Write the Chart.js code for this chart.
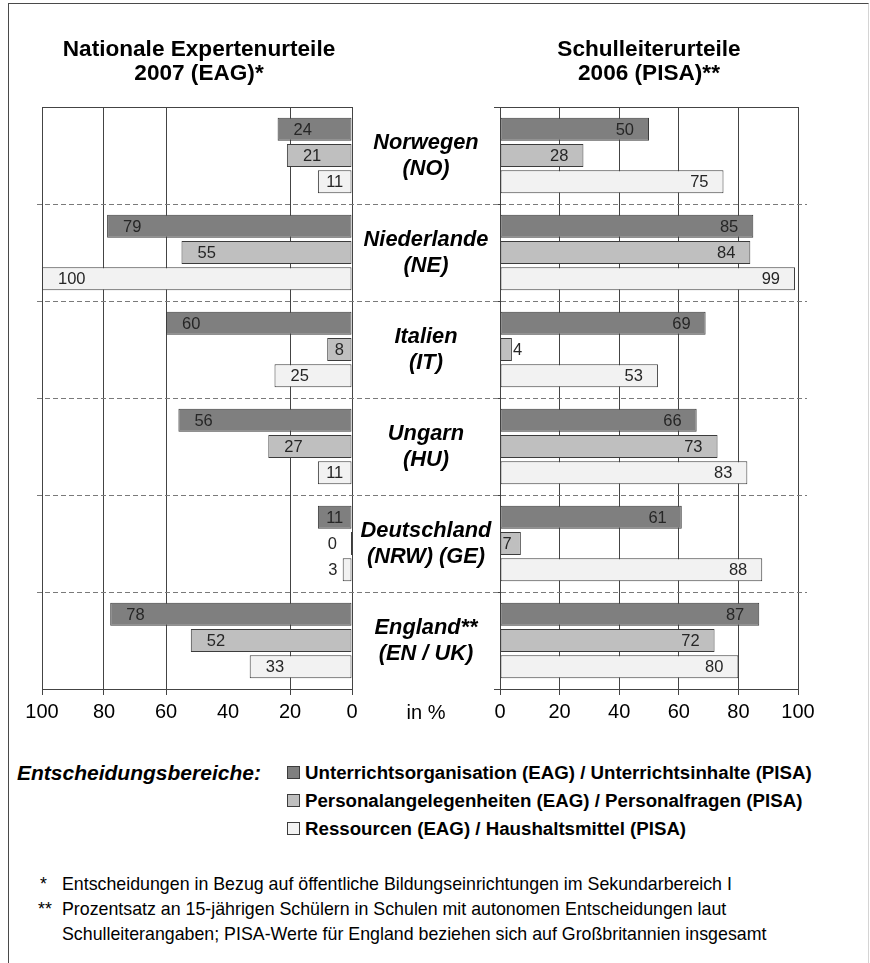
<!DOCTYPE html>
<html>
<head>
<meta charset="utf-8">
<script src="https://cdn.jsdelivr.net/npm/chart.js@4.4.1/dist/chart.umd.min.js"></script>
<style>
  html, body { margin: 0; padding: 0; background: #fff; }
  body { width: 870px; height: 963px; position: relative; overflow: hidden;
         font-family: "Liberation Sans", Arial, sans-serif; color: #000; }
  #frame { position: absolute; left: 8px; top: 3px; width: 859px; height: 990px;
           border-left: 1px solid #4a4a4a; border-top: 1px solid #4a4a4a; border-right: 1px solid #d4d4d4; }
  canvas { position: absolute; left: 0; top: 0; }
  .title { position: absolute; top: 37px; width: 340px; text-align: center;
           font-weight: bold; font-size: 22.6px; line-height: 24px; }
  #unit { position: absolute; left: 376px; top: 700px; width: 100px; text-align: center;
          font-size: 20px; line-height: 24px; }
  #legendHead { position: absolute; left: 17px; top: 759px; font-weight: bold; font-style: italic;
                font-size: 21px; line-height: 28px; }
  .legRow { position: absolute; left: 287px; height: 28px; line-height: 28px;
            font-weight: bold; font-size: 18.7px; white-space: nowrap; }
  .legRow span.box { display: inline-block; width: 11px; height: 11px; border: 1px solid #3c3c3c;
                     vertical-align: middle; margin-right: 5px; position: relative; top: -2px; }
  .note { position: absolute; font-size: 17.8px; line-height: 25px; white-space: nowrap; }
</style>
</head>
<body>
<div id="frame"></div>
<canvas id="leftChart" width="870" height="745"></canvas>
<canvas id="rightChart" width="870" height="745"></canvas>
<div class="title" style="left:29px">Nationale Expertenurteile<br>2007 (EAG)*</div>
<div class="title" style="left:479px">Schulleiterurteile<br>2006 (PISA)**</div>
<div id="unit">in %</div>
<div id="legendHead">Entscheidungsbereiche:</div>
<div id="legend"></div>
<div class="note" style="left:40px; top:872px">*</div>
<div class="note" style="left:62px; top:872px">Entscheidungen in Bezug auf öffentliche Bildungseinrichtungen im Sekundarbereich I</div>
<div class="note" style="left:38px; top:897px">**</div>
<div class="note" style="left:62px; top:897px">Prozentsatz an 15-jährigen Schülern in Schulen mit autonomen Entscheidungen laut</div>
<div class="note" style="left:62px; top:922px">Schulleiterangaben; PISA-Werte für England beziehen sich auf Großbritannien insgesamt</div>

<script>
// Countries (two-line labels shown between the two panels)
const countries = [
  ["Norwegen", "(NO)"],
  ["Niederlande", "(NE)"],
  ["Italien", "(IT)"],
  ["Ungarn", "(HU)"],
  ["Deutschland", "(NRW) (GE)"],
  ["England**", "(EN / UK)"]
];

// Decision areas (legend entries)
const areas = [
  "Unterrichtsorganisation (EAG) / Unterrichtsinhalte (PISA)",
  "Personalangelegenheiten (EAG) / Personalfragen (PISA)",
  "Ressourcen (EAG) / Haushaltsmittel (PISA)"
];

// National expert judgements 2007 (EAG), in %
const eagOrganisation = [24, 79, 60, 56, 11, 78];
const eagPersonal     = [21, 55, 8, 27, 0, 52];
const eagRessourcen   = [11, 100, 25, 11, 3, 33];

// School principal judgements 2006 (PISA), in %
const pisaInhalte  = [50, 85, 69, 66, 61, 87];
const pisaPersonal = [28, 84, 4, 73, 7, 72];
const pisaHaushalt = [75, 99, 53, 83, 88, 80];

// Axis ticks (percent)
const percentTicks = [0, 20, 40, 60, 80, 100];

const FONT = '"Liberation Sans", Arial, sans-serif';
const fills = ['#7f7f7f', '#bfbfbf', '#f2f2f2'];
const edge = '#3c3c3c';
const gridColor = '#444444';

Chart.defaults.font.family = FONT;
Chart.defaults.color = '#000';

// legend rows
const legend = document.getElementById('legend');
areas.forEach((txt, i) => {
  const row = document.createElement('div');
  row.className = 'legRow';
  row.style.top = (759 + i * 28) + 'px';
  const box = document.createElement('span');
  box.className = 'box';
  box.style.background = fills[i];
  row.appendChild(box);
  row.appendChild(document.createTextNode(txt));
  legend.appendChild(row);
});

// value labels drawn at the outer end of each bar
const valueLabels = {
  id: 'valueLabels',
  afterDatasetsDraw(chart, args, opts) {
    const ctx = chart.ctx;
    ctx.save();
    ctx.font = '16.5px ' + FONT;
    ctx.fillStyle = '#262626';
    ctx.textBaseline = 'middle';
    chart.data.datasets.forEach((ds, di) => {
      const meta = chart.getDatasetMeta(di);
      meta.data.forEach((bar, i) => {
        const text = String(ds.data[i]);
        const tw = ctx.measureText(text).width;
        const p = bar.getProps(['x', 'y', 'base'], true);
        const w = Math.abs(p.x - p.base);
        let tx;
        if (opts.side === 'left') {
          if (w >= tw + 20) { ctx.textAlign = 'left'; tx = p.x + 16; }
          else if (w >= tw + 4) { ctx.textAlign = 'center'; tx = (p.x + p.base) / 2; }
          else { ctx.textAlign = 'right'; tx = Math.min(p.x - 5, p.base - 14); }
        } else {
          if (w >= tw + 20) { ctx.textAlign = 'right'; tx = p.x - 15; }
          else if (w >= tw + 8) { ctx.textAlign = 'left'; tx = p.base + 2; }
          else { ctx.textAlign = 'left'; tx = p.x + 1; }
        }
        ctx.fillText(text, tx, p.y + 1);
      });
    });
    ctx.restore();
  }
};

// dashed country separators and the country names between the panels
const countryBands = {
  id: 'countryBands',
  beforeDatasetsDraw(chart) {
    const ys = chart.scales.y;
    const ctx = chart.ctx;
    ctx.save();
    ctx.strokeStyle = '#7a7a7a';
    ctx.lineWidth = 1.2;
    ctx.setLineDash([5, 3]);
    for (let i = 0; i < chart.data.labels.length - 1; i++) {
      const y = Math.round((ys.getPixelForValue(i) + ys.getPixelForValue(i + 1)) / 2) + 0.5;
      ctx.beginPath();
      ctx.moveTo(37, y);
      ctx.lineTo(chart.chartArea.right + 9, y);
      ctx.stroke();
    }
    ctx.restore();
  },
  afterDraw(chart) {
    const ys = chart.scales.y;
    const ctx = chart.ctx;
    const cx = chart.chartArea.left - 74;
    ctx.save();
    ctx.font = 'italic bold 21.8px ' + FONT;
    ctx.fillStyle = '#000';
    ctx.textAlign = 'center';
    ctx.textBaseline = 'middle';
    chart.data.labels.forEach((lines, i) => {
      const y = ys.getPixelForValue(i);
      ctx.fillText(lines[0], cx, y - 13);
      ctx.fillText(lines[1], cx, y + 13);
    });
    ctx.restore();
  }
};

function makeDatasets(values) {
  return values.map((vals, i) => ({
    label: areas[i],
    data: vals,
    backgroundColor: fills[i],
    borderColor: edge,
    borderWidth: 1,
    borderSkipped: false,
    xAxisID: 'x',
    yAxisID: 'y'
  }));
}

function xScales(reverse, hideValue) {
  return {
    x: {
      type: 'linear', axis: 'x', position: 'bottom', reverse, min: 0, max: 100,
      afterBuildTicks: s => { s.ticks = percentTicks.map(v => ({ value: v })); },
      ticks: { font: { size: 20 }, color: '#000', padding: 5 },
      grid: {
        color: c => (c.tick && c.tick.value === hideValue) ? 'rgba(0,0,0,0)' : gridColor,
        lineWidth: 1, tickLength: 6
      },
      border: { display: true, color: gridColor, width: 1 },
      afterFit: s => { s.height = 56; }
    },
    xTop: {
      type: 'linear', axis: 'x', position: 'top', reverse, min: 0, max: 100,
      ticks: { display: false },
      grid: { display: false, drawTicks: false },
      border: { display: true, color: gridColor, width: 1 },
      afterFit: s => { s.height = 0; }
    }
  };
}

const common = {
  indexAxis: 'y',
  responsive: false,
  animation: false,
  devicePixelRatio: 1,
  plugins: { legend: { display: false }, tooltip: { enabled: false } },
  datasets: { bar: { categoryPercentage: 0.814, barPercentage: 0.875 } }
};

// left panel: national expert judgements, axis running 100 -> 0
new Chart(document.getElementById('leftChart'), {
  type: 'bar',
  data: { labels: countries, datasets: makeDatasets([eagOrganisation, eagPersonal, eagRessourcen]) },
  options: Object.assign({}, common, {
    layout: { padding: { left: 42, right: 870 - 352, top: 107, bottom: 0 } },
    datasets: { bar: { categoryPercentage: 0.814, barPercentage: 0.875, minBarLength: 2 } },
    plugins: { legend: { display: false }, tooltip: { enabled: false }, valueLabels: { side: 'left' } },
    scales: Object.assign(xScales(true, 40), {
      y: { type: 'category', display: false, offset: true }
    })
  }),
  plugins: [valueLabels]
});

// right panel: school principal judgements, axis running 0 -> 100
new Chart(document.getElementById('rightChart'), {
  type: 'bar',
  data: { labels: countries, datasets: makeDatasets([pisaInhalte, pisaPersonal, pisaHaushalt]) },
  options: Object.assign({}, common, {
    layout: { padding: { left: 494, right: 870 - 798, top: 107, bottom: 0 } },
    plugins: { legend: { display: false }, tooltip: { enabled: false }, valueLabels: { side: 'right' } },
    scales: Object.assign(xScales(false, null), {
      y: {
        type: 'category', position: 'left', offset: true,
        ticks: { display: false },
        grid: { offset: true, drawOnChartArea: false, drawTicks: true, tickLength: 6, color: gridColor },
        border: { display: true, color: gridColor, width: 1 },
        afterFit: s => { s.width = 6; }
      }
    })
  }),
  plugins: [valueLabels, countryBands]
});
</script>
</body>
</html>
